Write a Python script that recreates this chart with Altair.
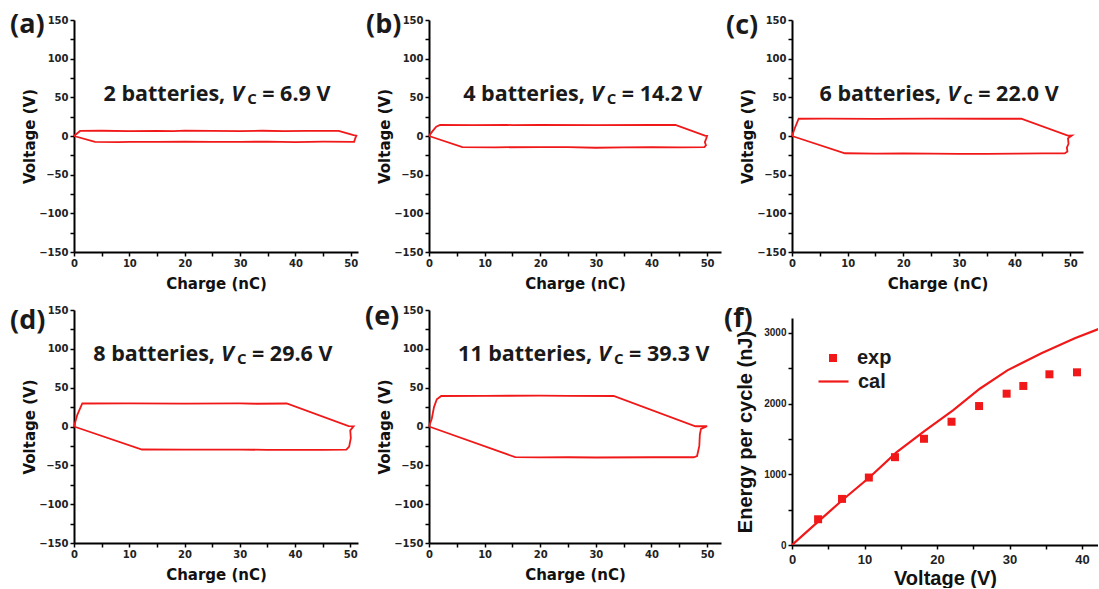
import altair as alt
import pandas as pd

RED = "#f01818"
INK = "#1a1a1a"

# ---------------- data: charge (nC) / voltage (V) loops ----------------
q_a = [0, 1.1, 5, 10, 15, 18, 20, 25, 30, 34, 38, 42, 47.8, 50.5, 51.0, 50.8, 50.6, 45, 40, 35, 30, 25, 20, 15, 10, 8, 3.8, 0]
v_a = [0, 6.5, 6.8, 6.3, 6.6, 6.2, 6.9, 6.5, 6.3, 6.8, 6.4, 6.6, 6.5, 1.0, 0.5, -3, -7.6, -7.4, -7.8, -7.3, -7.6, -7.7, -7.2, -7.6, -7.5, -8.0, -7.6, 0]

q_b = [0, 0.6, 1.3, 2.0, 8, 14, 15, 20, 30, 40, 44.3, 49.6, 50.0, 49.8, 49.6, 49.8, 49.5, 45, 40, 35, 30, 25, 20, 12, 6.0, 0]
v_b = [0, 6, 12, 14.2, 14.0, 14.4, 14.0, 14.2, 14.0, 14.2, 14.2, 0.5, 0.3, -4, -8, -12, -14.5, -14.6, -14.3, -14.8, -15.2, -14.5, -14.3, -14.6, -14.3, 0]

q_c = [0, 0.5, 1.2, 6, 15, 25, 35, 41.2, 49.7, 50.3, 49.6, 49.7, 49.4, 49.5, 49.0, 45, 40, 35, 30, 25, 20, 15, 9.5, 0]
v_c = [0, 10, 22.3, 22.5, 22.2, 22.5, 22.3, 22.3, 0.3, 0.5, -3, -10, -15, -20, -22.5, -22.5, -22.8, -23.0, -23.2, -22.9, -22.6, -22.8, -22.3, 0]

q_d = [0, 0.6, 1.5, 10, 20, 30, 33, 38.5, 49.7, 50.6, 50.0, 50.1, 49.8, 49.3, 45, 40, 35, 30, 25, 20, 12.3, 0]
v_d = [0, 15, 29.6, 29.8, 29.5, 29.7, 29.3, 29.6, 0.5, 0.3, -5, -15, -26, -29.8, -30.2, -30.0, -30.0, -29.8, -29.7, -29.8, -29.6, 0]

q_e = [0, 0.5, 0.9, 1.4, 2.2, 10, 20, 25, 33.2, 47.9, 50.0, 48.9, 48.7, 48.6, 48.2, 47.6, 40, 30, 25, 20, 15.5, 0]
v_e = [0, 10, 25, 35, 39.3, 39.4, 39.8, 39.4, 39.3, 0.3, 0.3, -3, -10, -25, -38, -39.6, -39.6, -39.9, -39.6, -39.8, -39.5, 0]

batteries = ["2", "4", "6", "8", "11"]
vc_values = ["6.9", "14.2", "22.0", "29.6", "39.3"]
panel_letters = ["(a)", "(b)", "(c)", "(d)", "(e)", "(f)"]

# ---------------- data: energy per cycle ----------------
exp_v = [3.6, 6.9, 10.6, 14.2, 18.2, 22.0, 25.8, 29.6, 31.9, 35.5, 39.3]
exp_e = [364, 652, 954, 1242, 1502, 1743, 1965, 2140, 2249, 2414, 2442]
cal_v = [0, 3.6, 7, 10.7, 14.4, 18.3, 22.2, 25.9, 29.7, 34.4, 39.0, 42.6, 44]
cal_e = [0, 330, 640, 958, 1310, 1615, 1905, 2210, 2470, 2712, 2924, 3066, 3120]

one = pd.DataFrame({"k": [0]})
ANN_FONT = "Open Sans"


def loop_panel(q, v, idx, xmax, width, height, ann_q, ann_v, lab_x, lab_y, anchor=False):
    df = pd.DataFrame({"q": q, "v": v, "i": list(range(len(q)))})
    x = alt.X("q:Q", scale=alt.Scale(domain=[0, xmax], nice=False, zero=False),
              axis=alt.Axis(values=list(range(0, 51, 5)),
                            labelExpr="datum.value % 10 === 0 ? datum.label : ''",
                            title="Charge (nC)", titlePadding=8))
    y = alt.Y("v:Q", scale=alt.Scale(domain=[-150, 150], nice=False),
              axis=alt.Axis(values=list(range(-150, 151, 25)),
                            labelExpr="datum.value % 50 === 0 ? datum.label : ''",
                            title="Voltage (V)", titlePadding=1))
    line = alt.Chart(df).mark_line(color=RED, strokeWidth=1.8).encode(x=x, y=y, order="i:Q")
    adf = pd.DataFrame({"q": [ann_q], "v": [ann_v]})
    base = alt.Chart(adf)
    common = dict(font=ANN_FONT, fontWeight="bold", color=INK, baseline="alphabetic")
    p1 = base.mark_text(text=f"{batteries[idx]} batteries,", align="right", dx=-6, fontSize=21.5, **common).encode(x=x, y=y)
    pv = base.mark_text(text="V", align="left", dx=0, fontSize=21.5, fontStyle="italic", **common).encode(x=x, y=y)
    pc = base.mark_text(text="C", align="left", dx=16, dy=3, fontSize=15, **common).encode(x=x, y=y)
    p3 = base.mark_text(text=f"= {vc_values[idx]} V", align="left", dx=31, fontSize=21.5, **common).encode(x=x, y=y)
    lab = alt.Chart(one).mark_text(text=panel_letters[idx], align="left", baseline="middle",
                                   font=ANN_FONT, fontWeight="bold", fontSize=27, color=INK).encode(
        x=alt.value(lab_x), y=alt.value(lab_y))
    layers = [line, p1, pv, pc, p3, lab]
    if anchor:
        layers.append(alt.Chart(one).mark_rule(opacity=0, strokeWidth=1).encode(
            x=alt.value(-73.5), x2=alt.value(-73.5), y=alt.value(-19.5), y2=alt.value(-19)))
    return alt.layer(*layers).properties(width=width, height=height)


a = loop_panel(q_a, v_a, 0, 51.3, 284, 232, 28.4, 45.3, -64, 5, anchor=True)
b = loop_panel(q_b, v_b, 1, 52.5, 292, 232, 29.1, 45.3, -63, 5)
c = loop_panel(q_c, v_c, 2, 52.3, 291, 232, 27.9, 45.0, -66, 6)
d = loop_panel(q_d, v_d, 3, 51.4, 284, 233, 26.6, 84.3, -64, 11)
e = loop_panel(q_e, v_e, 4, 52.5, 292, 233, 30.4, 84.3, -64, 7)

# ---------------- panel (f) ----------------
exp_df = pd.DataFrame({"V": exp_v, "E": exp_e, "s": ["exp"] * len(exp_v)})
cal_df = pd.DataFrame({"V": cal_v, "E": cal_e, "s": ["cal"] * len(cal_v)})
fx = alt.X("V:Q", scale=alt.Scale(domain=[0, 42.2], nice=False),
           axis=alt.Axis(values=list(range(0, 45, 5)),
                         labelExpr="datum.value % 10 === 0 ? datum.label : ''",
                         title="Voltage (V)", labelFont="Liberation Sans", labelFontSize=13,
                         labelPadding=4, titleFont="Liberation Sans", titleFontSize=20, titlePadding=2))
fy = alt.Y("E:Q", scale=alt.Scale(domain=[0, 3210], nice=False, range=[235, 8]),
           axis=alt.Axis(values=list(range(0, 3001, 500)), format="d",
                         labelExpr="datum.value % 1000 === 0 ? datum.label : ''",
                         title="Energy per cycle (nJ)", labelFont="Liberation Sans", labelFontSize=10,
                         titleFont="Liberation Sans", titleFontSize=20, titlePadding=8))
pts = alt.Chart(exp_df).mark_point(shape="square", filled=True, size=64, opacity=1).encode(
    x=fx, y=fy,
    color=alt.Color("s:N", scale=alt.Scale(domain=["exp"], range=[RED]),
                    legend=alt.Legend(orient="none", legendX=749, legendY=328, title=None,
                                      labelFont="Liberation Sans", labelFontWeight="bold",
                                      labelFontSize=20, labelColor=INK, labelOffset=14,
                                      symbolType="square", symbolSize=64)))
cal = alt.Chart(cal_df).mark_line(clip=True, strokeWidth=2.2).encode(
    x=fx, y=fy,
    stroke=alt.Stroke("s:N", scale=alt.Scale(domain=["cal"], range=[RED]),
                      legend=alt.Legend(orient="none", legendX=743, legendY=345, title=None,
                                        labelFont="Liberation Sans", labelFontWeight="bold",
                                        labelFontSize=20, labelColor=INK, labelOffset=8,
                                        symbolType="stroke", symbolSize=900, symbolStrokeWidth=2.2)))
flab = alt.Chart(one).mark_text(text=panel_letters[5], align="left", baseline="middle",
                                font=ANN_FONT, fontWeight="bold", fontSize=27, color=INK).encode(
    x=alt.value(-68), y=alt.value(9))
f = alt.layer(cal, pts, flab).properties(width=306, height=235)

chart = alt.concat(a, b, c, d, e, f, columns=3, spacing={"row": 58, "column": 71},
                   bounds="flush", align="each").properties(
    padding=0, background="white"
).configure_view(stroke=None).configure_axis(
    domainColor="black", domainWidth=2, tickColor="black", tickWidth=1.5, tickSize=4,
    labelFont="DejaVu Sans", labelFontWeight="bold", labelFontSize=10, labelColor="#222",
    titleFont="DejaVu Sans", titleFontWeight="bold", titleFontSize=15, titleColor="#111",
    grid=False, labelFlush=False, labelOverlap=False, labelPadding=2, titlePadding=3
)

chart.save("out.html", embed_options={"renderer": "svg", "actions": False})
